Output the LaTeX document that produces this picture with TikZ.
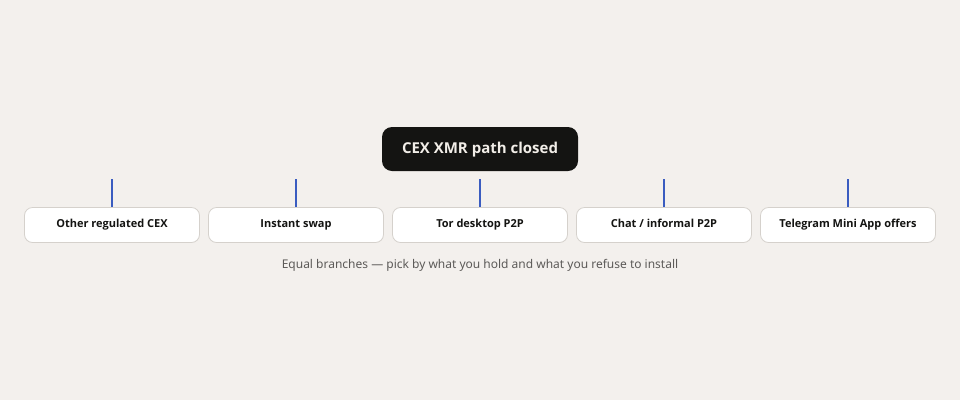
\documentclass[tikz,border=0pt]{standalone}
\usepackage{fontspec}
\setmainfont{Noto Sans}
\newfontfamily\headfont{Open Sans}
\definecolor{paper}{HTML}{F3F0ED}
\definecolor{ink}{HTML}{141412}
\definecolor{rootText}{HTML}{F2EEE8}
\definecolor{branchLine}{HTML}{3A5CC0}
\definecolor{boxEdge}{HTML}{D5D1CC}
\definecolor{noteText}{HTML}{5C5A58}
\begin{document}
\begin{tikzpicture}[x=1pt, y=-1pt,
    rootbox/.style={rectangle, rounded corners=10pt, fill=ink, text=rootText,
        minimum width=196pt, minimum height=44pt, text height=11pt, text depth=3pt,
        font=\headfont\fontsize{15}{18}\selectfont\bfseries},
    branchbox/.style={rectangle, rounded corners=8pt, draw=boxEdge, line width=0.8pt, fill=white,
        text=ink, minimum width=175pt, minimum height=35pt, text height=8pt, text depth=2.5pt,
        font=\headfont\fontsize{11}{13}\selectfont\bfseries},
    stem/.style={draw=branchLine, line width=1.6pt}]

    \fill[paper] (0,0) rectangle (960,400);
    \useasboundingbox (0,0) rectangle (960,400);

    \node[rootbox] (root) at (480,149) {CEX XMR path closed};

    \node[branchbox] (cex) at (112,225) {Other regulated CEX};
    \node[branchbox] (swap) at (296,225) {Instant swap};
    \node[branchbox] (tor) at (480,225) {Tor desktop P2P};
    \node[branchbox] (chat) at (664,225) {Chat / informal P2P};
    \node[branchbox] (tg) at (848,225) {Telegram Mini App offers};

    % short stems above each branch
    \foreach \b/\x in {cex/112, swap/296, tor/480, chat/664, tg/848} {
        \coordinate (\b top) at (\x,179);
        \draw[stem] (\b top) -- (\b.north);
    }

    \node[text=noteText, font=\fontsize{12}{14}\selectfont] (note) at (480,265)
        {Equal branches — pick by what you hold and what you refuse to install};
\end{tikzpicture}
\end{document}
